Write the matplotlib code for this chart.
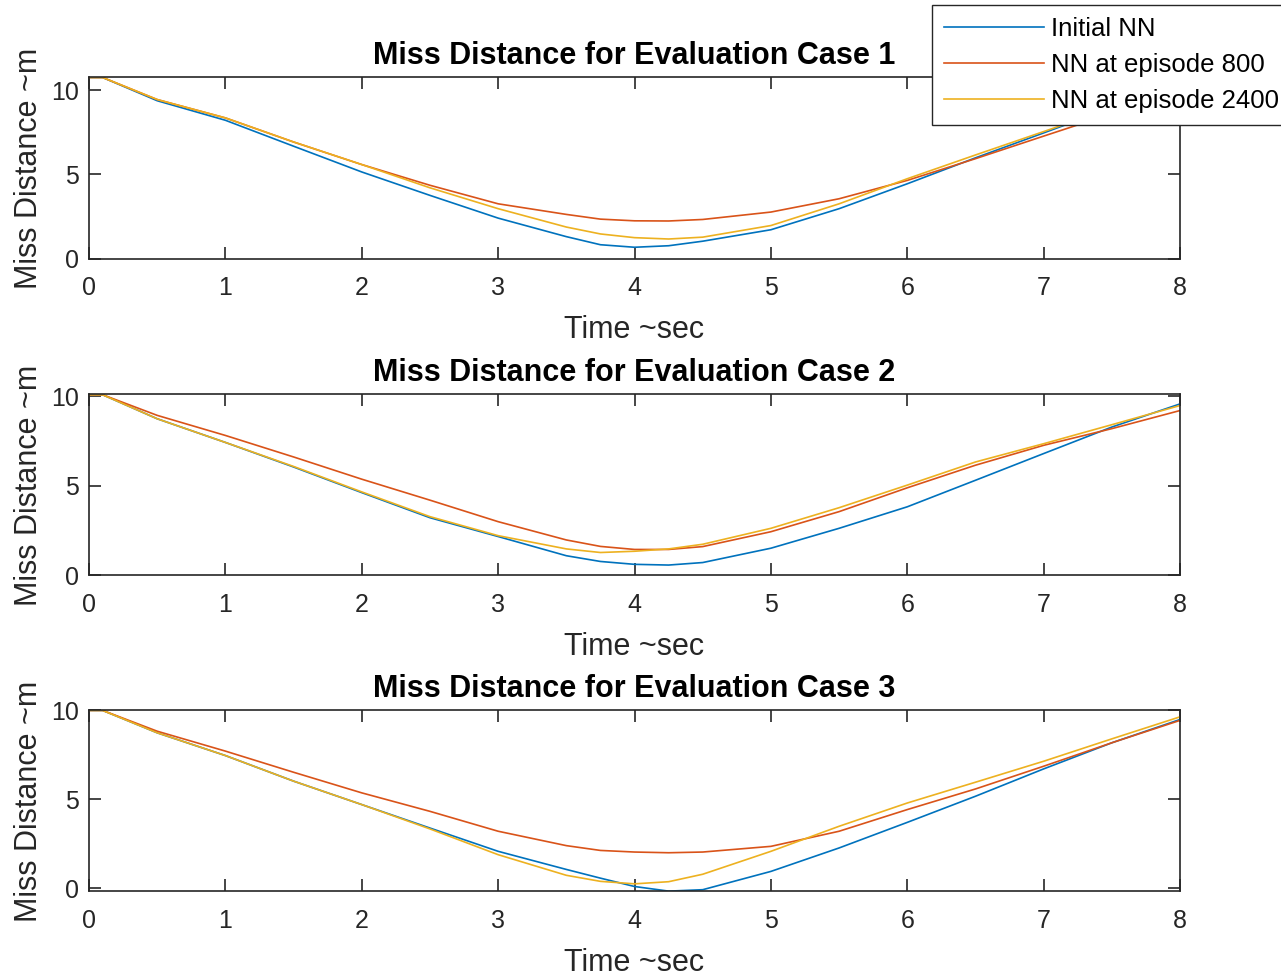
import numpy as np
import matplotlib.pyplot as plt

plt.rcParams['font.family'] = ['Liberation Sans', 'DejaVu Sans']

# time samples (s)
t = [0, 0.1, 0.5, 1, 1.5, 2, 2.5, 3, 3.5, 3.75, 4, 4.25, 4.5, 5, 5.5, 6, 6.5, 7, 7.5, 8]

labels = ['Initial NN', 'NN at episode 800', 'NN at episode 2400']
colors = ['#0072BD', '#D95319', '#EDB120']

# case 1
case1_initial = [10.75, 10.75, 9.37, 8.21, 6.67, 5.14, 3.75, 2.40, 1.30, 0.82, 0.67, 0.76, 1.03, 1.71, 2.96, 4.44, 5.98, 7.46, 8.95, 10.45]
case1_ep800 = [10.75, 10.75, 9.44, 8.35, 6.92, 5.58, 4.35, 3.25, 2.62, 2.34, 2.24, 2.23, 2.32, 2.76, 3.55, 4.64, 5.93, 7.27, 8.60, 9.90]
case1_ep2400 = [10.75, 10.75, 9.44, 8.35, 6.92, 5.58, 4.20, 2.96, 1.87, 1.46, 1.24, 1.16, 1.27, 1.96, 3.25, 4.74, 6.15, 7.54, 8.93, 10.33]

# case 2
case2_initial = [10.08, 10.08, 8.74, 7.42, 6.05, 4.62, 3.22, 2.17, 1.10, 0.78, 0.62, 0.58, 0.72, 1.52, 2.63, 3.83, 5.31, 6.80, 8.28, 9.57]
case2_ep800 = [10.08, 10.08, 8.93, 7.81, 6.61, 5.37, 4.20, 3.00, 1.98, 1.62, 1.45, 1.45, 1.61, 2.44, 3.56, 4.89, 6.15, 7.26, 8.19, 9.20]
case2_ep2400 = [10.08, 10.08, 8.74, 7.42, 6.08, 4.66, 3.28, 2.22, 1.48, 1.28, 1.35, 1.48, 1.74, 2.63, 3.78, 5.04, 6.33, 7.35, 8.41, 9.48]

# case 3
case3_initial = [10.0, 10.0, 8.74, 7.46, 6.02, 4.70, 3.38, 2.07, 1.05, 0.56, 0.09, -0.17, -0.09, 0.94, 2.26, 3.70, 5.17, 6.71, 8.18, 9.49]
case3_ep800 = [10.0, 10.0, 8.83, 7.71, 6.52, 5.36, 4.32, 3.20, 2.39, 2.12, 2.03, 1.99, 2.03, 2.35, 3.20, 4.42, 5.58, 6.86, 8.18, 9.44]
case3_ep2400 = [10.0, 10.0, 8.74, 7.46, 6.02, 4.70, 3.33, 1.88, 0.72, 0.38, 0.24, 0.36, 0.78, 2.07, 3.48, 4.79, 5.96, 7.14, 8.40, 9.64]

cases = [
    (case1_initial, case1_ep800, case1_ep2400),
    (case2_initial, case2_ep800, case2_ep2400),
    (case3_initial, case3_ep800, case3_ep2400),
]
ylims = [(0, 10.75), (0, 10.1), (-0.19, 10.0)]

fig = plt.figure(figsize=(12.81, 9.76), dpi=100)
ax_color = '#262626'
bottoms = [0.7351, 0.4104, 0.0866]

for k, (series, yl, b) in enumerate(zip(cases, ylims, bottoms)):
    ax = fig.add_axes([0.0695, b, 0.8517, 0.1855])
    for y, c, lab in zip(series, colors, labels):
        ax.plot(t, y, color=c, lw=1.2, label=lab)
    ax.set_xlim(0, 8)
    ax.set_ylim(*yl)
    ax.set_xticks(range(0, 9))
    ax.set_yticks([0, 5, 10])
    ax.tick_params(direction='in', top=True, right=True, length=8.5, width=1.2,
                   colors=ax_color, labelsize=18)
    ax.tick_params(axis='x', pad=12.5)
    ax.tick_params(axis='y', pad=7)
    for s in ax.spines.values():
        s.set_color(ax_color)
        s.set_linewidth(1.2)
    ax.set_title(f'Miss Distance for Evaluation Case {k + 1}', fontsize=22,
                 fontweight='bold', color='black', pad=10)
    ax.set_xlabel('Time ~sec', fontsize=22, color=ax_color, labelpad=11)
    ax.set_ylabel('Miss Distance ~m', fontsize=22, color=ax_color, labelpad=5)
    if k == 0:
        handles, _ = ax.get_legend_handles_labels()

leg = fig.legend(handles, labels, loc='upper left',
                 bbox_to_anchor=(932 / 1281, 1 - 5 / 976),
                 fontsize=18.5, frameon=True, fancybox=False, handlelength=3.9,
                 handletextpad=0.3, labelspacing=0.48, borderaxespad=0,
                 borderpad=0.45)
leg.get_frame().set_edgecolor(ax_color)
leg.get_frame().set_linewidth(1.0)
leg.get_frame().set_alpha(1.0)

fig.savefig('out.png', dpi=100)
